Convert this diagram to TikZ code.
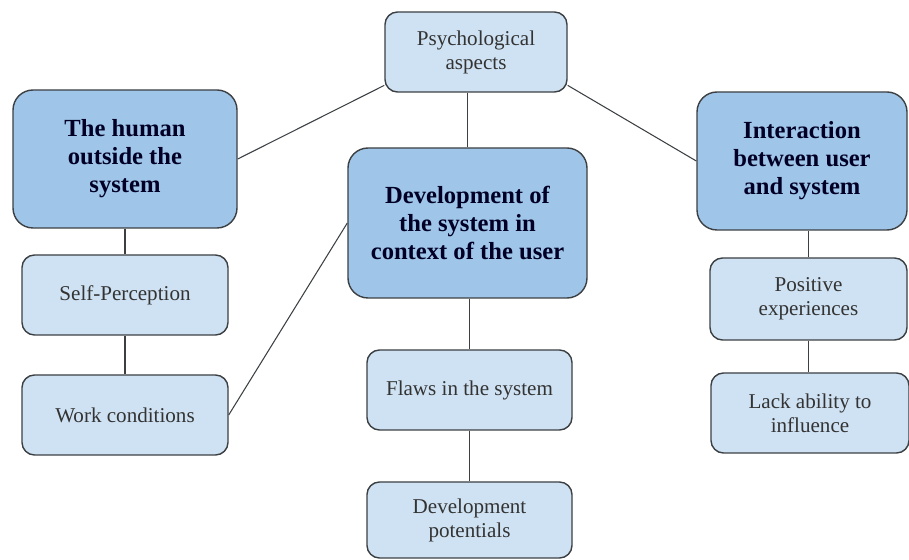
\documentclass[tikz,border=0pt]{standalone}
\usepackage{fontspec}
\setmainfont{LiberationSerif}[
  Extension=.ttf,
  UprightFont=*-Regular,
  BoldFont=*-Bold,
  ItalicFont=*-Italic,
  BoldItalicFont=*-BoldItalic]

\definecolor{topicblue}{HTML}{9FC5E8}
\definecolor{subblue}{HTML}{CFE2F3}
\definecolor{edgegray}{HTML}{3C4043}

\tikzset{
  mainbox/.style={draw=edgegray, line width=0.8pt, fill=topicblue,
    rounded corners=0.4cm, align=center, font=\fontsize{14}{16}\selectfont\bfseries,
    text=black!85!blue, inner sep=2pt},
  subbox/.style={draw=edgegray, line width=0.8pt, fill=subblue,
    rounded corners=0.25cm, align=center, font=\fontsize{12}{13.6}\selectfont,
    text=black!80, minimum height=1.6cm, inner sep=2pt},
  link/.style={draw=edgegray, line width=0.6pt}
}

\begin{document}
\begin{tikzpicture}
    \useasboundingbox (0, 0) rectangle (18.18, 11.2);

    % Psychological aspects
    \node [subbox, minimum width=3.64cm] (psy) at (9.52, 10.16)
          {Psychological\\aspects};

    % Main topics
    \node [mainbox, minimum width=4.48cm, minimum height=2.76cm] (human) at (2.5, 8.02)
          {The human\\outside the\\system};
    \node [mainbox, minimum width=4.78cm, minimum height=3.0cm] (dev) at (9.35, 6.74)
          {Development of\\the system in\\context of the user};
    \node [mainbox, minimum width=4.2cm, minimum height=2.76cm] (inter) at (16.04, 7.98)
          {Interaction\\between user\\and system};

    % Left column
    \node [subbox, minimum width=4.12cm] (self) at (2.5, 5.3) {Self-Perception};
    \node [subbox, minimum width=4.12cm] (work) at (2.5, 2.9) {Work conditions};

    % Middle column
    \node [subbox, minimum width=4.1cm] (flaws) at (9.39, 3.4) {Flaws in the system};
    \node [subbox, minimum width=4.1cm, minimum height=1.52cm] (pot) at (9.39, 0.8)
          {Development\\potentials};

    % Right column
    \node [subbox, minimum width=3.94cm, minimum height=1.64cm] (pos) at (16.17, 5.22)
          {Positive\\experiences};
    \node [subbox, minimum width=3.96cm] (lack) at (16.2, 2.94)
          {Lack ability to\\influence};

    % Edges
    \draw [link] (human.east) -- (psy.200);
    \draw [link] (psy.-20) -- (inter.west);
    \draw [link] (dev.north) -- (dev.north |- psy.south);
    \draw [link] (work.east) -- (dev.west);

    \draw [link] (human.south) -- (self.north);
    \draw [link] (self.south) -- (work.north);

    \draw [link] (dev.south -| flaws.north) -- (flaws.north);
    \draw [link] (flaws.south) -- (pot.north);

    \draw [link] (pos.north) -- (pos.north |- inter.south);
    \draw [link] (pos.south) -- (pos.south |- lack.north);
\end{tikzpicture}
\end{document}
